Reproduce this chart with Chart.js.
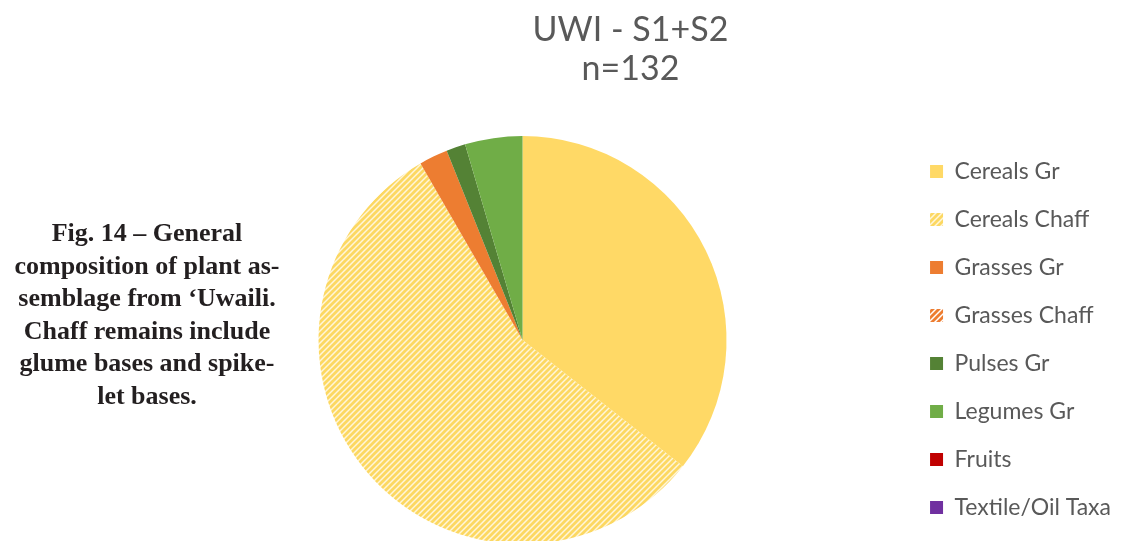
<!DOCTYPE html>
<html>
<head>
<meta charset="utf-8">
<script src="https://cdn.jsdelivr.net/npm/chart.js@4.4.0/dist/chart.umd.min.js"></script>
<style>
  html, body { margin: 0; padding: 0; background: #ffffff; overflow: hidden; width: 1122px; height: 541px; }
  #wrap { position: absolute; left: 0; top: 0; width: 1122px; height: 560px; }
  #caption {
    position: absolute; left: 7px; top: 217px; width: 280px;
    font-family: "Liberation Serif", "Times New Roman", serif; font-weight: bold;
    font-size: 26px; line-height: 32.5px; text-align: center; color: #231f20;
  }
</style>
</head>
<body>
<div id="wrap"><canvas id="c" width="1122" height="560"></canvas></div>
<div id="caption">Fig. 14 – General<br>composition of plant as-<br>semblage from ‘Uwaili.<br>Chaff remains include<br>glume bases and spike-<br>let bases.</div>
<script>
const categories = ['Cereals Gr', 'Cereals Chaff', 'Grasses Gr', 'Grasses Chaff', 'Pulses Gr', 'Legumes Gr', 'Fruits', 'Textile/Oil Taxa'];
const counts = [47, 74, 3, 0, 2, 6, 0, 0];
const titleLines = ['UWI - S1+S2', 'n=132'];

function hatch(stripe, bg) {
  const s = 6;
  const p = document.createElement('canvas');
  p.width = s; p.height = s;
  const g = p.getContext('2d');
  g.fillStyle = bg; g.fillRect(0, 0, s, s);
  g.strokeStyle = stripe; g.lineWidth = 2.8;
  g.beginPath();
  g.moveTo(-1, s + 1); g.lineTo(s + 1, -1);
  g.moveTo(-1, 1); g.lineTo(1, -1);
  g.moveTo(s - 1, s + 1); g.lineTo(s + 1, s - 1);
  g.stroke();
  return g.createPattern(p, 'repeat');
}
const ctx0 = document.getElementById('c').getContext('2d');
const colors = ['#FFD966', hatch('#FCD862', '#FFF6DA'), '#ED7D31', hatch('#ED7D31', '#FFFFFF'), '#548235', '#70AD47', '#C00000', '#7030A0'];

new Chart(ctx0, {
  type: 'pie',
  data: {
    labels: categories,
    datasets: [{ data: counts, backgroundColor: colors, borderWidth: 0, radius: 204 }]
  },
  options: {
    responsive: false,
    animation: false,
    layout: { padding: { left: 140, right: 1, top: 0, bottom: 16 } },
    plugins: {
      tooltip: { enabled: false },
      title: {
        display: true, text: titleLines, color: '#595959',
        font: { family: 'Lato', size: 34, weight: 'normal', lineHeight: 1.15 },
        padding: { top: 10, bottom: 48 }
      },
      legend: {
        position: 'right', fullSize: true, align: 'end',
        labels: {
          color: '#595959', boxWidth: 13, boxHeight: 13, padding: 25,
          font: { family: 'Lato', size: 23 }
        }
      }
    }
  }
});
</script>
</body>
</html>
